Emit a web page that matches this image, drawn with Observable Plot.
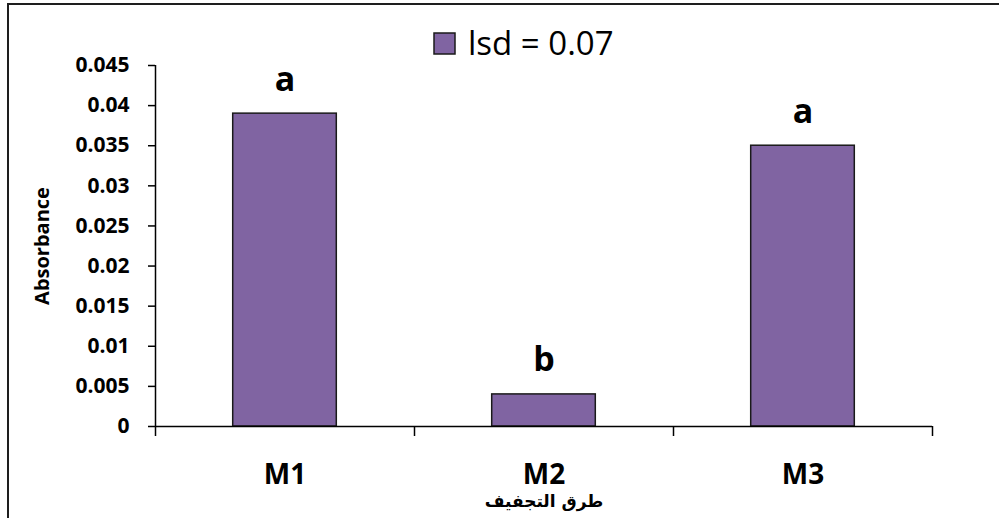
<!DOCTYPE html>
<html><head><meta charset="utf-8">
<script src="https://cdn.jsdelivr.net/npm/d3@7"></script>
<script src="https://cdn.jsdelivr.net/npm/@observablehq/plot@0.6"></script>
<style>
body{margin:0;background:#fff;}
#wrap{position:relative;width:999px;height:518px;overflow:hidden;background:#fff;}
#frame{position:absolute;left:7px;top:3px;right:-5px;bottom:-5px;border-left:2px solid #1e1e1e;border-top:2px solid #1e1e1e;pointer-events:none;}
#legend{position:absolute;left:0;top:0;pointer-events:none;}
</style>
</head><body>
<div id="wrap"><div id="chart"></div><svg id="legend" width="999" height="70"></svg><div id="frame"></div></div>
<script>
const categories = ["M1", "M2", "M3"];
const values = [0.039, 0.004, 0.035];
const letters = ["a", "b", "a"];
const yTicks = [0, 0.005, 0.01, 0.015, 0.02, 0.025, 0.03, 0.035, 0.04, 0.045];
const yTickLabels = ["0", "0.005", "0.01", "0.015", "0.02", "0.025", "0.03", "0.035", "0.04", "0.045"];
const seriesName = "lsd = 0.07";
const yTitle = "Absorbance";
const xTitle = "طرق التجفيف";
const barColor = "#8064A2";

const data = categories.map((c, i) => ({c, i, v: values[i], l: letters[i]}));
const boundaries = d3.range(categories.length + 1);

const chart = Plot.plot({
  width: 999, height: 518,
  marginLeft: 155, marginRight: 67, marginTop: 65, marginBottom: 92,
  x: {domain: [0, categories.length], axis: null},
  y: {domain: [0, 0.045], axis: null},
  style: {background: "transparent", fontFamily: "'Open Sans', sans-serif", color: "#000"},
  marks: [
    Plot.rectY(data, {x1: d => d.i + 0.3, x2: d => d.i + 0.7, y1: 0, y2: "v",
      fill: barColor, stroke: "#1a1a1a", strokeWidth: 1.5}),
    Plot.ruleY([0], {stroke: "#000", strokeWidth: 1.5}),
    Plot.ruleX([0], {y1: 0, y2: 0.045, stroke: "#000", strokeWidth: 1.5}),
    Plot.axisX({ticks: boundaries, tickSize: 10, tickFormat: () => "", label: null,
      stroke: "#000", strokeWidth: 1.5}),
    Plot.axisY({ticks: yTicks, tickSize: 7, tickPadding: 19, label: null,
      tickFormat: d => yTickLabels[yTicks.indexOf(d)],
      fontSize: 21, fontWeight: "bold", stroke: "#000", strokeWidth: 1.5, fill: "#000"}),
    Plot.text(data, {x: d => d.i + 0.5, y: 0, text: "c", dy: 57, lineAnchor: "bottom",
      fontSize: 28, fontWeight: "bold", fill: "#000"}),
    Plot.text(data, {x: d => d.i + 0.5, y: "v", text: "l", dy: -23, lineAnchor: "bottom",
      fontSize: 34, fontWeight: "bold", fill: "#000"}),
    Plot.text([yTitle], {frameAnchor: "left", textAnchor: "middle", dx: -113, rotate: -90,
      fontSize: 20, fontWeight: "bold", fill: "#000"}),
    Plot.text([xTitle], {frameAnchor: "bottom", dy: 80, lineAnchor: "bottom",
      fontFamily: "'DejaVu Sans'", fontSize: 17, fontWeight: "bold", fill: "#000"})
  ]
});
document.getElementById("chart").appendChild(chart);

// legend
const lg = d3.select("#legend");
lg.append("rect").attr("x", 434).attr("y", 33).attr("width", 21).attr("height", 21)
  .attr("fill", barColor).attr("stroke", "#1a1a1a").attr("stroke-width", 1.5);
lg.append("text").attr("x", 468).attr("y", 55).text(seriesName)
  .attr("font-family", "'Open Sans', sans-serif").attr("font-size", 33).attr("fill", "#000");
</script>
</body></html>
